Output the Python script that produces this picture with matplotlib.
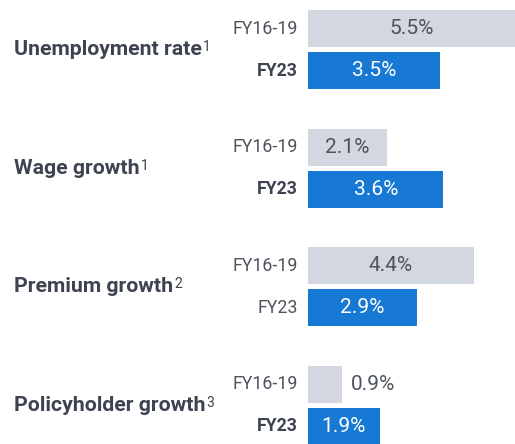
import matplotlib
matplotlib.use("Agg")
import matplotlib.pyplot as plt
from matplotlib.transforms import blended_transform_factory

# ---- data ----
categories = ["Unemployment rate", "Wage growth", "Premium growth", "Policyholder growth"]
footnotes = ["1", "1", "2", "3"]
period_labels = ["FY16-19", "FY23"]
fy16_19 = [5.5, 2.1, 4.4, 0.9]
fy23 = [3.5, 3.6, 2.9, 1.9]
fy23_bold = [True, True, False, True]

# ---- style ----
W, H = 515, 444
DPI = 100
GRAY = "#d3d7df"
BLUE = "#1779d3"
DARK = "#3d4350"
MID = "#4d525d"
FONT = "Roboto"
plt.rcParams["font.family"] = [FONT, "DejaVu Sans"]

fig = plt.figure(figsize=(W / DPI, H / DPI), dpi=DPI)
x0_px, x1_px = 308, 515
ax = fig.add_axes([x0_px / W, 0, (x1_px - x0_px) / W, 1])
ax.set_xlim(0, 5.5)

# vertical geometry (pixels -> data units where group spacing = 1)
first_center_px = 28.5
spacing_px = 118.5
ax.set_ylim((H - first_center_px) / spacing_px, -first_center_px / spacing_px)
bar_h = 37 / spacing_px
offset = 42 / spacing_px

ax.axis("off")

n = len(categories)
y_gray = [i for i in range(n)]
y_blue = [i + offset for i in range(n)]

ax.barh(y_gray, fy16_19, height=bar_h, color=GRAY, align="center")
ax.barh(y_blue, fy23, height=bar_h, color=BLUE, align="center")

trans = blended_transform_factory(fig.transFigure, ax.transData)

for i in range(n):
    # value labels
    for y, v, col_in in ((y_gray[i], fy16_19[i], MID), (y_blue[i], fy23[i], "white")):
        if v < 1.5 and col_in != "white":
            ax.text(v + 0.24, y, f"{v}%", ha="left", va="center", fontsize=15,
                    color=MID)
        else:
            ax.text(v / 2, y, f"{v}%", ha="center", va="center", fontsize=15,
                    color=col_in)
    # period labels
    fig.text(298 / W, y_gray[i], period_labels[0], transform=trans, ha="right",
             va="center", fontsize=12.8, color=MID)
    fig.text(298 / W, y_blue[i], period_labels[1], transform=trans, ha="right",
             va="center", fontsize=12.8, color=DARK if fy23_bold[i] else MID,
             fontweight="bold" if fy23_bold[i] else "normal")
    # category labels
    yc = (y_gray[i] + y_blue[i]) / 2
    t = fig.text(14 / W, yc, categories[i], transform=trans, ha="left", va="center",
                 fontsize=15.3, fontweight="bold", color=DARK)
    ax.annotate(footnotes[i], xy=(1.0, 0.98), xycoords=t, xytext=(0.8, 0),
                textcoords="offset points", ha="left", va="top", fontsize=10,
                color=DARK)

fig.savefig("out.png", dpi=DPI)
